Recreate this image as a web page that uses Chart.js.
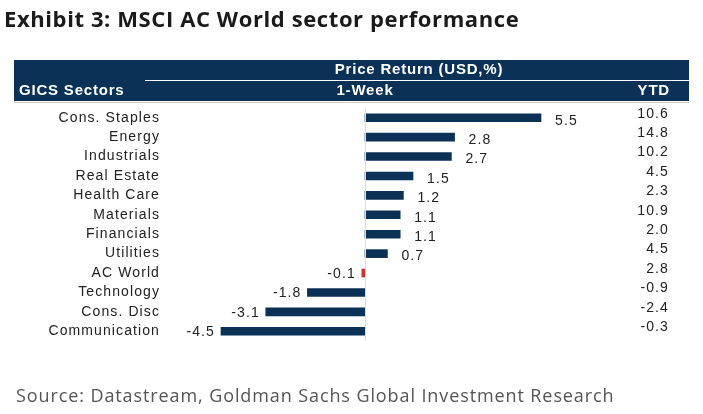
<!DOCTYPE html>
<html><head><meta charset="utf-8">
<script src="https://cdn.jsdelivr.net/npm/chart.js@4"></script>
<style>html,body{margin:0;padding:0;background:#fff}#w{width:703px;height:414px}</style>
</head><body><div id="w"><canvas id="c"></canvas></div>
<script>
const sectors=["Cons. Staples","Energy","Industrials","Real Estate","Health Care","Materials","Financials","Utilities","AC World","Technology","Cons. Disc","Communication"];
const week=[5.5,2.8,2.7,1.5,1.2,1.1,1.1,0.7,-0.1,-1.8,-3.1,-4.5];
const ytd=["10.6","14.8","10.2","4.5","2.3","10.9","2.0","4.5","2.8","-0.9","-2.4","-0.3"];
const NAVY="#0b3157";
const deco={id:"deco",afterDraw(ch){
  const c=ch.ctx,xs=ch.scales.x,ys=ch.scales.y;
  c.save();
  c.fillStyle="#1a1a1a";c.font="bold 22px 'Open Sans'";c.letterSpacing="0.6px";c.textBaseline="alphabetic";c.textAlign="left";
  c.fillText("Exhibit 3: MSCI AC World sector performance",4,27);
  c.fillStyle=NAVY;c.fillRect(14,60,675,41);
  c.strokeStyle="#fff";c.lineWidth=1;c.beginPath();c.moveTo(145,80.5);c.lineTo(689,80.5);c.stroke();
  c.fillStyle="#fff";c.font="bold 15px 'Liberation Sans'";c.letterSpacing="0.8px";c.textBaseline="middle";
  c.textAlign="center";c.fillText("Price Return (USD,%)",419,70);c.fillText("1-Week",365,91);
  c.textAlign="left";c.fillText("GICS Sectors",19,91);
  c.textAlign="right";c.fillText("YTD",670,91);
  c.strokeStyle="#ccc";c.beginPath();c.moveTo(14,102.5);c.lineTo(689,102.5);c.stroke();
  const x0=xs.getPixelForValue(0);
  c.strokeStyle="#ddd";c.beginPath();c.moveTo(x0+0.5,ys.top);c.lineTo(x0+0.5,ys.bottom);c.stroke();
  c.font="14px 'Liberation Sans'";c.letterSpacing="1.1px";c.fillStyle="#222";
  sectors.forEach((s,i)=>{
    const y=ys.getPixelForValue(i);
    c.textAlign="right";c.fillText(s,160,y);
    const v=week[i],xe=xs.getPixelForValue(v);
    if(v>=0){c.textAlign="left";c.fillText(v.toFixed(1),xe+14,y+3);}
    else{c.textAlign="right";c.fillText(v.toFixed(1),xe-6,y+1);}
    c.textAlign="right";c.fillText(ytd[i],669,y-4);
  });
  c.font="18px 'Open Sans'";c.letterSpacing="0.9px";c.fillStyle="#555";c.textAlign="left";
  c.fillText("Source: Datastream, Goldman Sachs Global Investment Research",16,397);
  c.restore();
}};
new Chart(document.getElementById("c"),{type:"bar",
 data:{labels:sectors,datasets:[{data:week,backgroundColor:week.map((v,i)=>sectors[i]==="AC World"?"#d0312d":NAVY),barThickness:8}]},
 options:{indexAxis:"y",responsive:true,maintainAspectRatio:false,animation:false,
  layout:{padding:{left:205,right:146,top:108,bottom:73}},
  plugins:{legend:{display:false},tooltip:{enabled:false}},
  scales:{x:{display:false,min:-5,max:6},y:{display:false}}},
 plugins:[deco]});
</script></body></html>
